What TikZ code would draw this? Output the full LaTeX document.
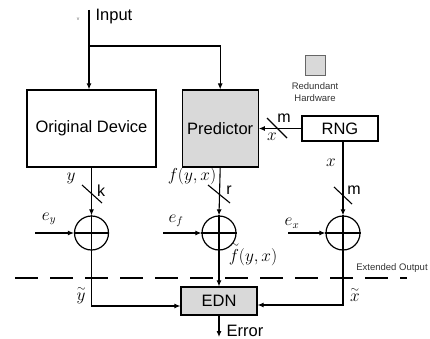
\documentclass[tikz,border=0pt]{standalone}
\usepackage{fontspec}
\setmainfont{Liberation Sans}
\usetikzlibrary{positioning,arrows.meta}
\begin{document}
\begin{tikzpicture}[x=1pt, y=-1pt, line width=1.1pt,
>={Latex[length=6pt,width=5pt]},
blocknode/.style={rectangle, draw=black, line width=1.2pt, inner sep=0pt, font=\fontsize{16.5}{18}\selectfont},
hwfill/.style={fill=gray!30},
sumnode/.style={circle, draw=black, line width=1.2pt, minimum size=34pt, inner sep=0pt},
siglabel/.style={inner sep=0pt, font=\fontsize{16}{18}\selectfont},
smalltext/.style={inner sep=0pt, text=black!80, font=\fontsize{9.5}{12}\selectfont},
]
    \useasboundingbox (0,0) rectangle (430,339);
    % blocks
    \node[blocknode, minimum width=129pt, minimum height=77pt] (orig) at (91.5,128.5) {Original Device};
    \node[blocknode, hwfill, minimum width=76pt, minimum height=77pt, right=25pt of orig] (pred) {Predictor};
    \node[blocknode, minimum width=76pt, minimum height=25pt] (rng) at (340,128.5) {RNG};
    \node[blocknode, hwfill, minimum width=76pt, minimum height=28pt] (edn) at (219,301) {EDN};
    % legend
    \node[draw=black!60, fill=gray!30, line width=0.6pt, minimum size=20pt, inner sep=0pt] (legend) at (315,65.5) {};
    \node[smalltext, align=center, below=6pt of legend] (legendtxt) {Redundant\\Hardware};
    % adders
    \node[sumnode] (sumy) at (91.5,233) {};
    \node[sumnode] (sumf) at (219,233) {};
    \node[sumnode] (sumx) at (343,233) {};
    \foreach \s in {sumy,sumf,sumx}
        \draw (\s.west) -- (\s.east) (\s.north) -- (\s.south);
    % input
    \coordinate (in) at (89,10);
    \coordinate (split) at (89,46);
    \node[blocknode, draw=none, anchor=west] (inlabel) at (95,17) {Input};
    \node[inner sep=0pt, text=black!60, font=\fontsize{5}{6}\selectfont] (vmark) at (78,19) {v};
    \draw[->] (in) -- (in |- orig.north);
    \draw[->] (split) -| (pred.north);
    % outputs into adders
    \draw[->] (orig.south) -- (sumy.north);
    \draw[->] (pred.south) -- (sumf.north);
    \draw[->] (rng.west) -- (pred.east);
    \draw[->] (sumx |- rng.south) -- (sumx.north);
    % error inputs
    \coordinate (ey) at (35,233);
    \coordinate (ef) at (163,233);
    \coordinate (ex) at (288,233);
    \draw[->] (ey) -- (sumy.west);
    \draw[->] (ef) -- (sumf.west);
    \draw[->] (ex) -- (sumx.west);
    % bus marks
    \draw (82,185) -- (102,203);
    \draw (208,185) -- (230,203);
    \draw (334,187) -- (352,204);
    \draw (267,118) -- (287,138);
    % into EDN
    \draw[->] (sumy.south) |- ([yshift=-5pt]edn.west);
    \draw[->] (sumf.south) -- (edn.north);
    \draw[->] (sumx.south) |- ([yshift=-4pt]edn.east);
    \coordinate (err) at (219,337);
    \draw[->] (edn.south) -- (err);
    \node[blocknode, draw=none, anchor=west] (errlabel) at (226,331) {Error};
    % extended output boundary
    \draw[dash pattern=on 23pt off 12pt] (15,278) -- (407,278);
    \node[smalltext] (extlabel) at (392,268) {Extended Output};
    % labels
    \node[siglabel] (ly) at (71,178) {$y$};
    \node[siglabel] (lk) at (101,191) {k};
    \node[siglabel] (lf) at (192,176) {$f(y,x)$};
    \node[siglabel] (lr) at (229,190) {r};
    \node[siglabel] (lxr) at (331,163) {$x$};
    \node[siglabel] (lmr) at (354,190) {m};
    \node[siglabel] (lmt) at (284,118) {m};
    \node[siglabel] (lxt) at (272,137) {$x$};
    \node[siglabel] (ley) at (49,219) {$e_y$};
    \node[siglabel] (lef) at (176,221) {$e_f$};
    \node[siglabel] (lex) at (292,223) {$e_x$};
    \node[siglabel] (lft) at (253,254) {$\mathord{\stackrel{\sim}{f}}(y,x)$};
    \node[siglabel] (lyt) at (81,295) {$\stackrel{\sim}{y}$};
    \node[siglabel] (lxt2) at (355,295) {$\stackrel{\sim}{x}$};
\end{tikzpicture}
\end{document}
